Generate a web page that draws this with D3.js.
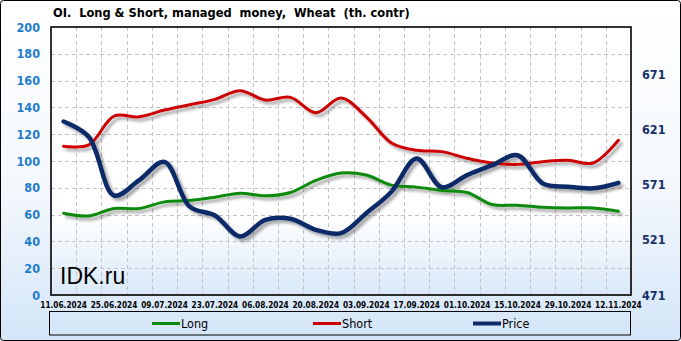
<!DOCTYPE html>
<html>
<head>
<meta charset="utf-8">
<script src="https://cdn.jsdelivr.net/npm/d3@7/dist/d3.min.js"></script>
<style>
html,body{margin:0;padding:0;background:#fff;}
svg{display:block;}
</style>
</head>
<body>
<svg id="chart" width="681" height="341"></svg>
<script>
const dates = ["11.06.2024","18.06.2024","25.06.2024","02.07.2024","09.07.2024","16.07.2024","23.07.2024","30.07.2024","06.08.2024","13.08.2024","20.08.2024","27.08.2024","03.09.2024","10.09.2024","17.09.2024","24.09.2024","01.10.2024","08.10.2024","15.10.2024","22.10.2024","29.10.2024","05.11.2024","12.11.2024"];
const longVals  = [61, 59, 64.5, 64.5, 69.5, 70.5, 73, 76, 74, 76.5, 85.5, 91, 89.5, 82, 80.5, 78, 76.5, 67.5, 67, 65.5, 65, 65, 62.5];
const shortVals = [111, 112, 133.5, 133, 138, 142, 146, 152.5, 145.5, 147.5, 136, 147, 133, 113.5, 108, 107, 102, 98.5, 97.5, 99.5, 100.5, 98.5, 115.5];
const priceVals = [628, 614, 561, 575, 591.5, 551, 543, 524, 539, 540, 530, 527, 545, 564.5, 594.5, 568.5, 579.5, 588.5, 597.5, 572, 569, 567.5, 572.5];
const leftTicks = [0,20,40,60,80,100,120,140,160,180,200];
const rightTicks = [471,521,571,621,671];
const labelDates = dates.filter((d,i)=>i%2===0);
const seriesNames = ["Long","Short","Price"];
const seriesColors = ["#0a8a0a","#cc0000","#0f2a68"];

const W=681,H=341;
const L=51,R=631,T=27,B=295;
const svg=d3.select("#chart");
const defs=svg.append("defs");

const g1=defs.append("linearGradient").attr("id","bgGrad").attr("x1",0).attr("y1",0).attr("x2",0).attr("y2",1);
g1.append("stop").attr("offset","0%").attr("stop-color","#ffffff");
g1.append("stop").attr("offset","55%").attr("stop-color","#f4f8fd");
g1.append("stop").attr("offset","100%").attr("stop-color","#d3e5f8");
const g2=defs.append("linearGradient").attr("id","plotGrad").attr("x1",0).attr("y1",0).attr("x2",0).attr("y2",1);
g2.append("stop").attr("offset","0%").attr("stop-color","#ffffff");
g2.append("stop").attr("offset","70%").attr("stop-color","#ffffff");
g2.append("stop").attr("offset","100%").attr("stop-color","#d9e8f9");
const f=defs.append("filter").attr("id","shadow").attr("x","-10%").attr("y","-10%").attr("width","130%").attr("height","140%");
f.append("feDropShadow").attr("dx",3).attr("dy",3).attr("stdDeviation",1.6).attr("flood-color","#000").attr("flood-opacity",0.35);

svg.append("rect").attr("x",0.5).attr("y",0.5).attr("width",W-1).attr("height",H-1).attr("rx",3)
  .attr("fill","url(#bgGrad)").attr("stroke","#000").attr("stroke-width",1);

svg.append("rect").attr("x",L).attr("y",T).attr("width",R-L).attr("height",B-T).attr("fill","url(#plotGrad)");

const x=d3.scaleBand().domain(dates).range([L,R]).padding(0);
const xc=d=>x(d)+x.bandwidth()/2;
const yL=d3.scaleLinear().domain([0,200]).range([B,T]);
const yR=d3.scaleLinear().domain([471,471+(B-T)/55.25*50]).range([B,T]);

// grid
const grid=svg.append("g").attr("stroke","#c4c4c4").attr("stroke-width",1).attr("stroke-dasharray","4,3");
leftTicks.slice(1,-1).forEach(v=>{
  grid.append("line").attr("x1",L).attr("x2",R).attr("y1",Math.round(yL(v))+0.5).attr("y2",Math.round(yL(v))+0.5);
});
dates.slice(1).forEach(d=>{
  const xx=Math.round(x(d))+0.5;
  grid.append("line").attr("x1",xx).attr("x2",xx).attr("y1",T).attr("y2",B);
});

// watermark
svg.append("text").attr("x",60).attr("y",284).attr("font-family","Liberation Sans, Arial, sans-serif")
  .attr("font-size",23).attr("fill","#000").text("IDK.ru");

// lines
const line=(vals,scale)=>d3.line().x((d,i)=>xc(dates[i])).y(d=>scale(d)).curve(d3.curveCatmullRom.alpha(0.5))(vals);
const lg=svg.append("g").attr("filter","url(#shadow)").attr("fill","none").attr("stroke-linecap","round").attr("stroke-linejoin","round");
lg.append("path").attr("d",line(longVals,yL)).attr("stroke",seriesColors[0]).attr("stroke-width",3);
lg.append("path").attr("d",line(shortVals,yL)).attr("stroke",seriesColors[1]).attr("stroke-width",3);
lg.append("path").attr("d",line(priceVals,yR)).attr("stroke",seriesColors[2]).attr("stroke-width",4.5);

// plot border
svg.append("rect").attr("x",L).attr("y",T).attr("width",R-L).attr("height",B-T).attr("fill","none").attr("stroke","#000").attr("stroke-width",1.6);

const fam="DejaVu Sans Condensed, DejaVu Sans, sans-serif";
// left axis
const axL=d3.axisLeft(yL).tickValues(leftTicks).tickSize(0).tickPadding(11);
const gl=svg.append("g").attr("transform",`translate(${L},0)`).call(axL);
gl.select(".domain").remove();
gl.selectAll("text").attr("font-family",fam).attr("font-weight","bold").attr("font-size",12.5).attr("fill","#1e7bcc");

// right axis
const axR=d3.axisRight(yR).tickValues(rightTicks).tickSize(0).tickPadding(11);
const gr=svg.append("g").attr("transform",`translate(${R},0)`).call(axR);
gr.select(".domain").remove();
gr.selectAll("text").attr("font-family",fam).attr("font-weight","bold").attr("font-size",12.5).attr("fill","#16306a");

// bottom axis
const axB=d3.axisBottom(x).tickValues(labelDates).tickSize(0).tickPadding(7);
const gb=svg.append("g").attr("transform",`translate(0,${B})`).call(axB);
gb.select(".domain").remove();
gb.selectAll("text").attr("font-family",fam).attr("font-weight","bold").attr("font-size",8.2).attr("fill","#000");

// title
svg.append("text").attr("x",53).attr("y",17).attr("font-family",fam).attr("font-weight","bold").attr("font-size",12.7)
  .attr("fill","#000").style("white-space","pre").text("OI.  Long & Short, managed  money,  Wheat  (th. contr)");

// legend
svg.append("rect").attr("x",49.5).attr("y",311.5).attr("width",581).attr("height",23.5).attr("fill","none").attr("stroke","#000").attr("stroke-width",1);
const legX=[152,313,473];
seriesNames.forEach((n,i)=>{
  svg.append("line").attr("x1",legX[i]).attr("x2",legX[i]+28).attr("y1",323.5).attr("y2",323.5)
    .attr("stroke",seriesColors[i]).attr("stroke-width",i===2?4:3);
  svg.append("text").attr("x",legX[i]+29).attr("y",328).attr("font-family",fam).attr("font-size",12.5).attr("fill","#000").text(n);
});
</script>
</body>
</html>
